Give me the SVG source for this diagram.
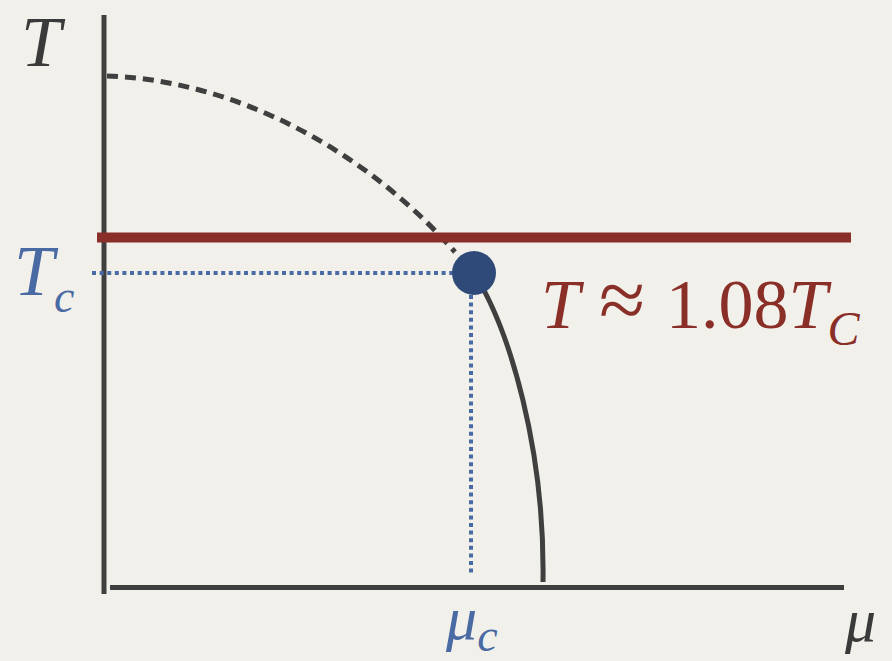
<svg xmlns="http://www.w3.org/2000/svg" width="892" height="661" viewBox="0 0 892 661">
<style>
.ax{stroke:#3f3f3f;stroke-width:5;fill:none}
.lbl{font-family:"Liberation Serif","Times New Roman",serif;font-style:italic}
.dot{stroke:#4a6aa3;stroke-width:4;stroke-dasharray:4 3.6;fill:none}
</style>
<rect width="892" height="661" fill="#f2f0eb"/>
<g id="axes">
<line class="ax" x1="104" y1="15" x2="104" y2="594"/>
<line class="ax" x1="110" y1="587.5" x2="844" y2="587.5"/>
</g>
<g id="connectors">
<path d="M107,76 C235,80 365,150 455,252" stroke="#3f3f3f" stroke-width="5" fill="none" stroke-dasharray="11 7"/>
<path d="M474,273 C510,330 545,450 543,582" class="ax" stroke-width="4"/>
<line x1="97" y1="237.5" x2="851" y2="237.5" stroke="#892e28" stroke-width="10"/>
<line class="dot" x1="92" y1="273" x2="455" y2="273"/>
<line class="dot" x1="471" y1="295" x2="471" y2="574"/>
</g>
<g id="critical-point">
<circle cx="474" cy="273" r="22" fill="#2f4a78"/>
</g>
<g id="labels">
<text class="lbl" x="21" y="66" font-size="72" fill="#3a3a3a">T</text>
<text class="lbl" x="14" y="295" font-size="72" fill="#4a6aa3">T<tspan font-size="46" dy="17">c</tspan></text>
<text y="328" font-size="70" fill="#8a2e28" font-family="Liberation Serif,Times New Roman,serif"><tspan x="541" font-style="italic">T</tspan><tspan x="599" font-size="84">≈</tspan><tspan x="666">1.08</tspan><tspan font-style="italic">T</tspan><tspan font-style="italic" font-size="48" dy="17">C</tspan></text>
<text class="lbl" x="446" y="639" font-size="62" fill="#4a6aa3">μ<tspan font-size="46" dy="12">c</tspan></text>
<text class="lbl" x="845" y="641" font-size="62" fill="#3a3a3a">μ</text>
</g>
</svg>
